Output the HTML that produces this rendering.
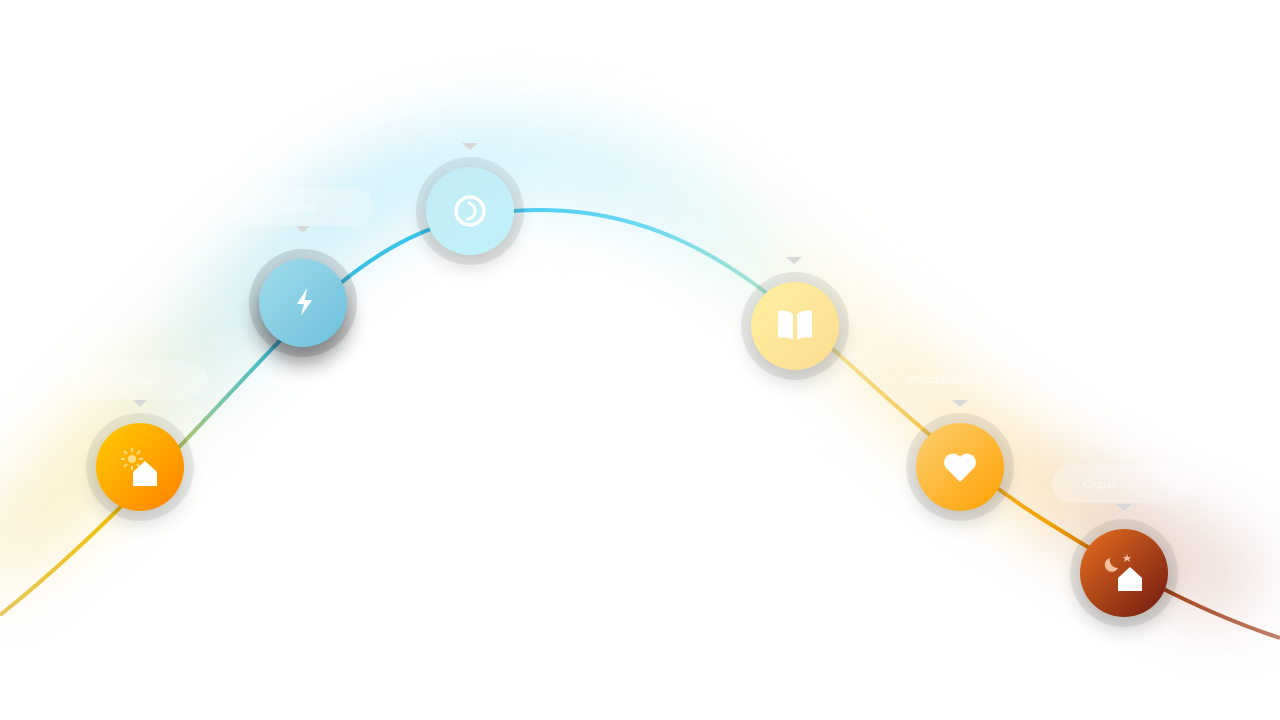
<!DOCTYPE html>
<html><head><meta charset="utf-8"><style>
html,body{margin:0;padding:0;background:#fff;width:1280px;height:720px;overflow:hidden;font-family:"Liberation Sans",sans-serif}
</style></head><body>
<svg width="1280" height="720" viewBox="0 0 1280 720" xmlns="http://www.w3.org/2000/svg">
<defs>
<linearGradient id="lg" x1="0" y1="0" x2="1280" y2="0" gradientUnits="userSpaceOnUse">
<stop offset="0" stop-color="#e8c860"/>
<stop offset="0.1" stop-color="#f2c000"/>
<stop offset="0.17" stop-color="#7fc8a8"/>
<stop offset="0.22" stop-color="#38b8d8"/>
<stop offset="0.35" stop-color="#3cc8f0"/>
<stop offset="0.5" stop-color="#6ad8f4"/>
<stop offset="0.6" stop-color="#a8e4d0"/>
<stop offset="0.66" stop-color="#f4e090"/>
<stop offset="0.74" stop-color="#f6c040"/>
<stop offset="0.82" stop-color="#f4a000"/>
<stop offset="0.9" stop-color="#a04010"/>
<stop offset="1" stop-color="#c08070"/>
</linearGradient>
<filter id="bl" x="-20%" y="-50%" width="140%" height="200%"><feGaussianBlur stdDeviation="32"/></filter>
<filter id="sh" x="-50%" y="-50%" width="200%" height="200%"><feGaussianBlur stdDeviation="10"/></filter>
<linearGradient id="g1" x1="0" y1="0" x2="1" y2="1"><stop offset="0" stop-color="#ffcc00"/><stop offset="1" stop-color="#ff8000"/></linearGradient>
<linearGradient id="g2" x1="0" y1="0" x2="1" y2="1"><stop offset="0" stop-color="#a0dcec"/><stop offset="1" stop-color="#6cc0dc"/></linearGradient>
<linearGradient id="g3" x1="0" y1="0" x2="1" y2="1"><stop offset="0" stop-color="#c4ecf4"/><stop offset="1" stop-color="#bff2fa"/></linearGradient>
<linearGradient id="g4" x1="0" y1="0" x2="1" y2="1"><stop offset="0" stop-color="#fff0a0"/><stop offset="1" stop-color="#fcdc90"/></linearGradient>
<linearGradient id="g5" x1="0" y1="0" x2="1" y2="1"><stop offset="0" stop-color="#fdd070"/><stop offset="1" stop-color="#ffa000"/></linearGradient>
<linearGradient id="g6" x1="0" y1="0" x2="1" y2="1"><stop offset="0" stop-color="#e87020"/><stop offset="1" stop-color="#701810"/></linearGradient>
</defs>
<path d="M0,615 C120,520 220,400 300,320 C380,240 450,210 540,210 C650,210 730,260 800,320 C880,390 960,470 1060,530 C1140,580 1210,615 1280,638" fill="none" stroke="url(#lg)" stroke-width="90" opacity="0.22" filter="url(#bl)" transform="translate(-25,-50)"/>
<path d="M0,615 C120,520 220,400 300,320 C380,240 450,210 540,210 C650,210 730,260 800,320 C880,390 960,470 1060,530 C1140,580 1210,615 1280,638" fill="none" stroke="url(#lg)" stroke-width="4"/>
<g font-size="11" fill="#fff" text-anchor="middle" opacity="0.7">
<rect x="70" y="361" width="138" height="38" rx="19" fill="#fff" opacity="0.4"/><text x="140" y="384">Подъем</text>
<rect x="230" y="188" width="143" height="38" rx="19" fill="#fff" opacity="0.4"/><text x="300" y="211">Заряд</text>
<rect x="1052" y="465" width="140" height="38" rx="19" fill="#fff" opacity="0.4"/><text x="1100" y="488">Отдых</text>
<text x="945" y="383">Расслабление</text>
</g>
<g fill="#d8d8d8">
<path d="M133,400 h14 l-7,7z"/><path d="M296,226 h14 l-7,7z"/><path d="M462,143 h16 l-8,7z"/>
<path d="M786,257 h16 l-8,7z"/><path d="M952,400 h16 l-8,7z"/><path d="M1116,504 h16 l-8,7z"/>
</g>
<g>
<circle cx="140" cy="477" r="46" fill="#000" opacity="0.15" filter="url(#sh)"/>
<circle cx="140" cy="467" r="54" fill="#000" opacity="0.07"/><circle cx="140" cy="467" r="44" fill="url(#g1)"/>
<circle cx="303" cy="318" r="46" fill="#000" opacity="0.4" filter="url(#sh)"/>
<circle cx="303" cy="303" r="54" fill="#000" opacity="0.12"/><circle cx="303" cy="303" r="44" fill="url(#g2)"/>
<circle cx="470" cy="221" r="46" fill="#000" opacity="0.15" filter="url(#sh)"/>
<circle cx="470" cy="211" r="54" fill="#000" opacity="0.08"/><circle cx="470" cy="211" r="44" fill="url(#g3)"/>
<circle cx="795" cy="336" r="46" fill="#000" opacity="0.15" filter="url(#sh)"/>
<circle cx="795" cy="326" r="54" fill="#000" opacity="0.08"/><circle cx="795" cy="326" r="44" fill="url(#g4)"/>
<circle cx="960" cy="477" r="46" fill="#000" opacity="0.15" filter="url(#sh)"/>
<circle cx="960" cy="467" r="54" fill="#000" opacity="0.08"/><circle cx="960" cy="467" r="44" fill="url(#g5)"/>
<circle cx="1124" cy="583" r="46" fill="#000" opacity="0.2" filter="url(#sh)"/>
<circle cx="1124" cy="573" r="54" fill="#000" opacity="0.08"/><circle cx="1124" cy="573" r="44" fill="url(#g6)"/>
</g>
<g fill="#fff">
<circle cx="132" cy="459" r="4" fill="#ffe08a"/>
<g stroke="#ffe08a" stroke-width="2"><path d="M132,448v4M132,466v4M121,459h4M139,459h4M124,451l3,3M137,464l3,3M124,467l3,-3M137,454l3,-3"/></g>
<path d="M133,472 l12,-11 l12,11 v14 h-24z"/>
<path d="M307,288 l-10,16 h7 l-3,12 l11,-16 h-7z"/>
<circle cx="470" cy="211" r="14" fill="none" stroke="#fff" stroke-width="3.5"/>
<path d="M468,203 a8,8 0 1 1 -2,16" fill="none" stroke="#fff" stroke-width="3"/>
<path d="M778,311 q8,-2 15,3 v26 q-7,-4 -15,-2z M797,314 q7,-5 15,-3 v27 q-8,-2 -15,2z"/>
<path d="M960,482 l-14,-14 a8,8 0 0 1 14,-11 a8,8 0 0 1 14,11z"/>
<path d="M1110,558 a7,7 0 1 0 8,10 a8,8 0 0 1 -8,-10z" fill="#f4c0a0"/>
<path d="M1127,554 l1,3 h3 l-2,2 l1,3 l-3,-2 l-3,2 l1,-3 l-2,-2 h3z" fill="#f4c0a0"/>
<path d="M1118,578 l12,-11 l12,11 v13 h-24z"/>
</g>
</svg>
</body></html>
